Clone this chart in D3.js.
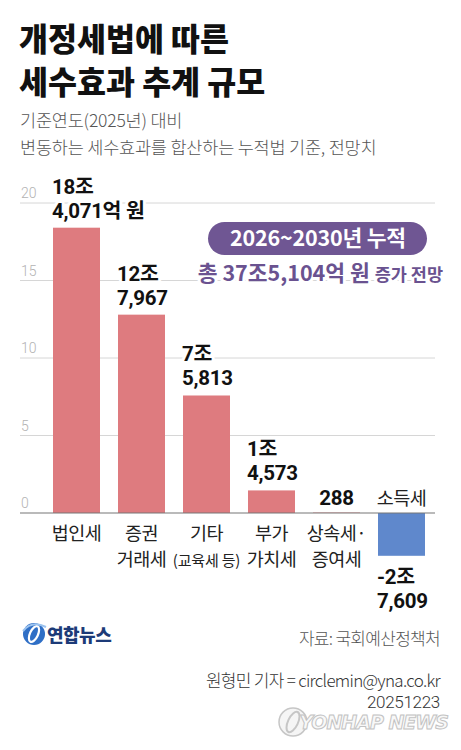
<!DOCTYPE html>
<html>
<head>
<meta charset="utf-8">
<script src="https://cdn.jsdelivr.net/npm/d3@7"></script>
<style>
  body { margin: 0; background: #fff; }
  svg { display: block; font-family: "Noto Sans CJK KR", "Noto Sans", sans-serif; }
</style>
</head>
<body>
<div id="chart"></div>
<script>
// 세목별 세수효과 (단위: 조원)
const categories = [["법인세"], ["증권", "거래세"], ["기타", "(교육세 등)"], ["부가", "가치세"], ["상속세·", "증여세"], ["소득세"]];
const values = [18.4071, 12.7967, 7.5813, 1.4573, 0.0288, -2.7609];
const valueLabels = [["18조", "4,071억 원"], ["12조", "7,967"], ["7조", "5,813"], ["1조", "4,573"], ["288"], ["-2조", "7,609"]];
const ticks = [0, 5, 10, 15, 20];

const width = 461;
const height = 750;
const numFont = 'Roboto, "Noto Sans CJK KR", sans-serif';

const svg = d3.select('#chart')
    .append('svg')
    .attr('width', width)
    .attr('height', height)
    .attr('viewBox', `0 0 ${width} ${height}`);

// title
const title = svg.append('g').attr('fill', '#111').attr('font-weight', 800)
    .attr('font-size', 31.5).attr('letter-spacing', 0);
title.append('text').attr('x', 19).attr('y', 51).text('개정세법에 따른');
title.append('text').attr('x', 19).attr('y', 94).text('세수효과 추계 규모');

const sub = svg.append('g').attr('fill', '#555').attr('font-size', 17.5)
    .attr('font-weight', 300).attr('letter-spacing', -0.2);
sub.append('text').attr('x', 20).attr('y', 127).text('기준연도(2025년) 대비');
sub.append('text').attr('x', 20).attr('y', 154).text('변동하는 세수효과를 합산하는 누적법 기준, 전망치');

// scales
const x = d3.scaleBand()
    .domain(d3.range(categories.length))
    .range([44, 434])
    .paddingInner(0.277)
    .paddingOuter(0.1385);

const y = d3.scaleLinear()
    .domain([0, 20])
    .range([513, 203]);

// grid
const grid = svg.append('g');
grid.selectAll('line')
    .data(ticks.filter(t => t !== 0))
    .join('line')
    .attr('x1', 20)
    .attr('x2', 435)
    .attr('y1', d => y(d))
    .attr('y2', d => y(d))
    .attr('stroke', '#d6d6d6')
    .attr('stroke-width', 1);

grid.selectAll('text')
    .data(ticks)
    .join('text')
    .attr('x', 21)
    .attr('y', d => y(d) - 5)
    .attr('fill', '#b3b3b3')
    .attr('font-family', numFont)
    .attr('font-size', 14)
    .attr('font-weight', 300)
    .text(d => d);

// summary box
const box = svg.append('g');
box.append('rect')
    .attr('x', 208).attr('y', 222)
    .attr('width', 219).attr('height', 33)
    .attr('rx', 16.5)
    .attr('fill', '#6f5693');
box.append('text')
    .attr('x', 318).attr('y', 246)
    .attr('text-anchor', 'middle')
    .attr('fill', '#fff')
    .attr('font-size', 21.5)
    .attr('font-weight', 700)
    .attr('letter-spacing', -0.2)
    .text('2026~2030년 누적');

const total = box.append('text')
    .attr('x', 443).attr('y', 281)
    .attr('text-anchor', 'end')
    .attr('fill', '#6a5290')
    .attr('font-weight', 700)
    .attr('stroke', '#fff').attr('stroke-width', 6)
    .attr('stroke-linejoin', 'round')
    .attr('paint-order', 'stroke');
total.append('tspan').attr('font-size', 21.5).text('총 37조5,104억 원 ');
total.append('tspan').attr('font-size', 17.5).text('증가 전망');

// bars
svg.append('g')
    .selectAll('rect')
    .data(values)
    .join('rect')
    .attr('x', (d, i) => x(i))
    .attr('width', x.bandwidth())
    .attr('y', d => y(Math.max(0, d)))
    .attr('height', d => Math.abs(y(d) - y(0)))
    .attr('fill', d => d >= 0 ? '#de7b7f' : '#5f88cc');

// zero line
svg.append('line')
    .attr('x1', 20).attr('x2', 435)
    .attr('y1', y(0)).attr('y2', y(0))
    .attr('stroke', '#777')
    .attr('stroke-width', 1.2);

// value labels, one text per line
const vl = svg.append('g')
    .attr('fill', '#111')
    .attr('font-family', numFont)
    .attr('font-size', 20.5)
    .attr('font-weight', 700)
    .attr('letter-spacing', -0.3)
    .attr('stroke', '#fff').attr('stroke-width', 6)
    .attr('stroke-linejoin', 'round')
    .attr('paint-order', 'stroke');

valueLabels.forEach((lines, i) => {
    const v = values[i];
    const single = lines.length === 1;
    lines.forEach((s, j) => {
        let base;
        if (single) base = y(0) - 8;
        else if (v >= 0) base = y(v) - 10 - (lines.length - 1 - j) * 24;
        else base = y(v) + 28 + j * 24;
        vl.append('text')
            .attr('x', single ? x(i) + x.bandwidth() / 2 : x(i) - 1)
            .attr('y', base)
            .attr('text-anchor', single ? 'middle' : 'start')
            .text(s);
    });
});

// category labels
const cl = svg.append('g')
    .attr('fill', '#222')
    .attr('font-size', 18.5)
    .attr('font-weight', 400)
    .attr('letter-spacing', -0.5)
    .attr('text-anchor', 'middle');

categories.forEach((lines, i) => {
    const cx = x(i) + x.bandwidth() / 2;
    if (values[i] < 0) {
        cl.append('text').attr('x', cx).attr('y', y(0) - 8).text(lines[0]);
        return;
    }
    lines.forEach((s, j) => {
        const small = s.startsWith('(');
        cl.append('text')
            .attr('x', cx)
            .attr('y', y(0) + 27 + j * 26)
            .attr('font-size', small ? 15 : 18.5)
            .attr('letter-spacing', small ? -0.2 : -0.5)
            .text(s);
    });
});

// footer logo
const logo = svg.append('g').attr('transform', 'translate(34,634)');
logo.append('circle').attr('r', 11).attr('fill', '#2f6fc6');
logo.append('ellipse').attr('rx', 4).attr('ry', 8.5)
    .attr('transform', 'rotate(25)')
    .attr('fill', 'none').attr('stroke', '#fff').attr('stroke-width', 2.2);
logo.append('path').attr('d', 'M-11,-3 Q-2,-14 12,-7')
    .attr('fill', 'none').attr('stroke', '#9cc3ef').attr('stroke-width', 2);
svg.append('text')
    .attr('x', 47).attr('y', 642)
    .attr('fill', '#1d3b78')
    .attr('font-size', 18)
    .attr('font-weight', 900)
    .attr('letter-spacing', -0.5)
    .text('연합뉴스');

const foot = svg.append('g')
    .attr('fill', '#555')
    .attr('font-size', 17)
    .attr('font-weight', 300)
    .attr('letter-spacing', -0.7)
    .attr('text-anchor', 'end');
foot.append('text').attr('x', 440).attr('y', 645).text('자료: 국회예산정책처');
foot.append('text').attr('x', 440).attr('y', 687).attr('fill', '#333').text('원형민 기자 = circlemin@yna.co.kr');
foot.append('text').attr('x', 440).attr('y', 708).attr('fill', '#333')
    .attr('font-family', numFont).attr('letter-spacing', -0.3).text('20251223');

// watermark
const wm = svg.append('g').attr('opacity', 0.85);
wm.append('circle').attr('cx', 293).attr('cy', 722).attr('r', 14)
    .attr('fill', '#f4f4f4').attr('stroke', '#bdbdbd').attr('stroke-width', 1.5);
wm.append('ellipse').attr('cx', 293).attr('cy', 722).attr('rx', 5).attr('ry', 11)
    .attr('transform', 'rotate(25,293,722)')
    .attr('fill', 'none').attr('stroke', '#bdbdbd').attr('stroke-width', 2);
wm.append('text')
    .attr('x', 448).attr('y', 729)
    .attr('text-anchor', 'end')
    .attr('fill', '#f7f7f7')
    .attr('stroke', '#b8b8b8').attr('stroke-width', 1)
    .attr('font-family', '"DejaVu Sans", sans-serif')
    .attr('font-size', 19)
    .attr('font-weight', 700)
    .attr('font-style', 'italic')
    .attr('letter-spacing', -1)
    .text('YONHAP NEWS');
</script>
</body>
</html>
